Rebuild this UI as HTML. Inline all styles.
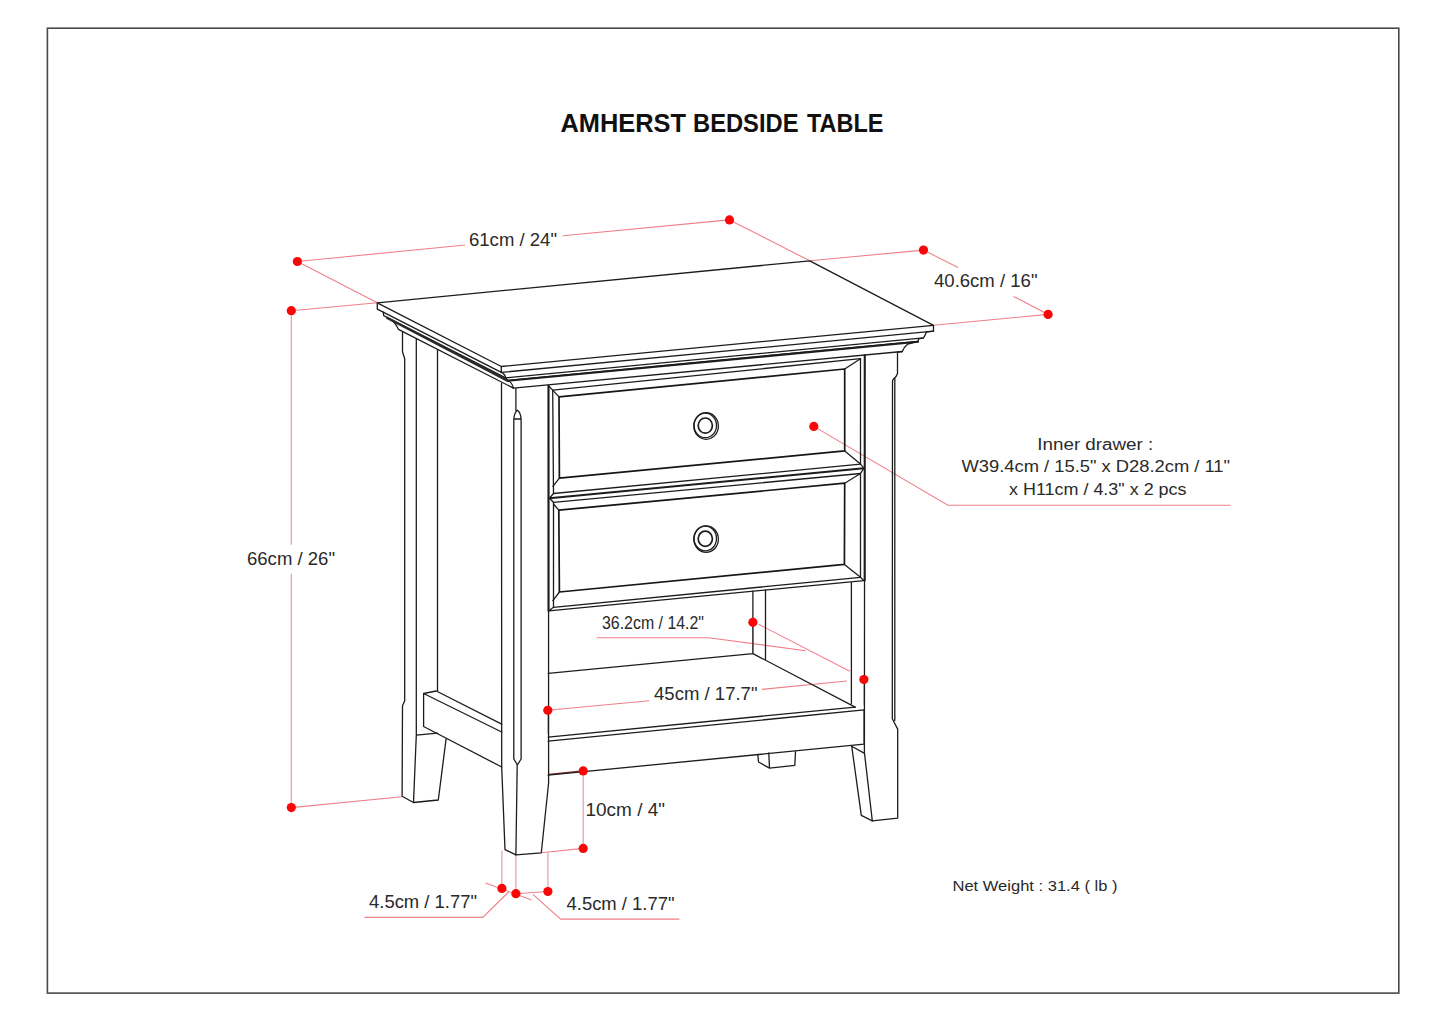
<!DOCTYPE html>
<html><head><meta charset="utf-8">
<style>
html,body{margin:0;padding:0;background:#fff;width:1445px;height:1021px;overflow:hidden}
svg{display:block}
text{font-family:"Liberation Sans",sans-serif;fill:#2a2a2a}
.k{fill:none;stroke:#1c1c1c;stroke-width:1.3;stroke-linejoin:round;stroke-linecap:round}
.kt{fill:none;stroke:#1c1c1c;stroke-width:2;stroke-linecap:round}
.r{fill:none;stroke:#ef8088;stroke-width:1.1}
.rv{fill:none;stroke:#d9a3ad;stroke-width:1.2}
.pn{fill:none;stroke:#161616;stroke-width:1.7;stroke-linejoin:round}
.rd{fill:#fa0606}
</style></head>
<body>
<svg width="1445" height="1021" viewBox="0 0 1445 1021">
<rect x="47.4" y="28.2" width="1351.4" height="964.9" fill="none" stroke="#4a4a4a" stroke-width="1.6"/>
<g font-size="26" font-weight="bold" style="fill:#111">
<text x="560.5" y="132" textLength="125.5" lengthAdjust="spacingAndGlyphs" style="fill:#111">AMHERST</text>
<text x="693" y="132" textLength="105.5" lengthAdjust="spacingAndGlyphs" style="fill:#111">BEDSIDE</text>
<text x="807" y="132" textLength="76.5" lengthAdjust="spacingAndGlyphs" style="fill:#111">TABLE</text>
</g>

<!-- RED ANNOTATION LINES -->
<g class="r">
<path d="M297.4,261.5 L465.2,245 M562.7,235.7 L729.5,219.9 M297.4,261.5 L377.3,302.8 M729.5,219.9 L809.8,260.8"/>
<path d="M291.3,310.7 L377.3,302.8 M291.3,807.6 L401.8,796.8"/>
<path class="rv" d="M291.3,310.7 L291.3,544.8 M291.3,573.8 L291.3,807.6 M752.9,622.3 L752.9,653.7 M863.9,679.5 L863.9,705 M547.8,710.3 L547.8,734 M583.2,770.9 L583.2,848.4 M501.9,850.8 L501.9,888.4 M515.9,854.9 L515.9,893.7 M547.9,852.8 L547.9,891.5"/>
<path d="M809.8,260.8 L923.5,250.1 L958.1,267.6 M1013.5,296.4 L1048.1,314.4 L933.5,325.3"/>
<path d="M813.8,426.4 L947.8,505.2 L1230.6,505.2"/>
<path d="M596.6,637.7 L708.7,637.7 L805.7,650.8 M758.7,624.3 L849.8,671.3"/>
<path d="M547.8,710.3 L649.2,700.8 M761.6,689.4 L846.8,681"/>
<path d="M541.3,852.8 L583.2,848.4"/>
<path d="M548.6,774.5 L583.2,770.9" style="stroke:#8a2a2a;stroke-width:1.3"/>
<path d="M485.6,883 L531.6,900 M515.9,893.7 L547.9,891.5 M508.6,892 L482.7,917.4 L364.5,917.4 M532.9,894.4 L560.7,919.1 L679.4,919.1"/>
</g>

<!-- TABLE DRAWING -->
<g class="k">
<!-- top -->
<path d="M377.3,302.8 L809.8,260.8 L933.5,325.3 L501.3,366.5 Z"/>
<path d="M377.3,302.8 L377.3,309.1 L501.3,372.4 L501.3,366.5 M501.3,372.4 L933.5,331.2 L933.5,325.3"/>
<!-- molding left -->
<path d="M383.2,312.1 L383.7,315.6 L505.7,377.9 M387.1,317.6 Q395,321 398.4,329.3 L513.4,388.1"/>
<path d="M501.3,372.4 Q505,374 505.7,377.9 L507.5,380.4 Q512,382 513.4,388.1"/>
<path d="M505.7,377.9 L923.5,337.8 M507.5,380.4 L918,341.3 M513.4,388.1 L902.3,351.5"/>
<path d="M933.5,331.2 L926.3,332 Q925,336 923.5,337.8 L918.7,338.9 L918,341.3 L907.8,344 Q904,347 902.3,351.5 L897.5,352.2"/>
<!-- back-left leg -->
<path d="M402.5,331.8 L402.5,351.7 L404.7,358.8 L404.7,700.8 L402.5,705.7 L402.1,796.3 L413.5,802.5 L438.3,800 L446.1,738.8"/>
<path d="M416.3,338.8 L416.3,735.1 L413.5,802.5 M437.5,349.7 L437.5,691 M416.3,735.1 L437.6,733.2"/>
<!-- stretcher -->
<path d="M423.6,693.5 L436.3,691 L501.7,724.1 M423.6,693.5 L501.7,732 M423.6,693.5 L423.6,726.5 L501.7,767"/>
<!-- front-left leg -->
<path d="M501.5,383.5 L501.7,767 L505,849.6 L515.9,854.9 L541.3,852.8 L548.6,783 L548.5,385.7"/>
<path d="M515.9,388.5 L515.9,410.5 M513.8,419 L521.1,419 M513.8,759 L513.8,419 Q514.5,412 517.4,410.2 Q520.5,412 521.1,419 L521.1,759 L517.4,765 Z M517.2,765 L515.9,854.9"/>
<!-- drawers -->
<path d="M552.7,390.1 L860.5,358.7 L860.5,464.1 L553.5,493.5 Z"/>
<path class="pn" d="M559,396.9 L844.7,369 L844.7,450.9 L559.4,478.2 Z"/>
<path d="M552.7,390.1 L559,396.9 M860.5,358.7 L844.7,369 M860.5,464.1 L844.7,450.9 M552.9,486.4 L559.4,478.2 M548.5,385.7 L552.7,390.1"/>
<path d="M553.5,493.5 L549.4,498.2 L553.5,502.3 M860.5,464.1 L863.8,468.2 L860.5,473.5"/>
<path d="M553.5,502.3 L860.5,473.5 L860.5,577.3 L553.5,607.3 Z"/>
<path class="pn" d="M558.8,510.2 L844.7,483.2 L844.4,564.4 L559.4,592 Z"/>
<path d="M553.5,504 L558.8,510.2 M860.5,473.5 L844.7,483.2 M860.5,577.3 L844.4,564.4 M552.9,600.6 L559.4,592"/>
<path d="M548.8,610.8 L863.8,580.6 M553.5,607.3 L548.8,610.8 M860.5,577.3 L863.8,580.6"/>
<!-- right front leg -->
<path d="M897.5,352.2 L897.5,373.5 Q896.5,377 893.5,379 Q892.5,380 892.5,382 L892.3,718.7 L897.7,729.1 L897.7,818.2 L872.3,820.9 L864.4,752.4 L864.7,355.3"/>
<path d="M894.8,378.5 L894.8,720.5"/>
<path d="M851.7,746.2 L861.3,815.4 L872.3,820.9 M851.7,746.2 L864.1,753.1"/>
<!-- shelf -->
<path d="M548.2,673.3 L752.9,653.7 M752.9,591.2 L752.9,653.7 M765.5,590 L765.5,659.8 M752.9,653.6 L855.2,707.1 M851.4,582.6 L851.4,703.6"/>
<path d="M548.2,737.1 L855.2,707.1 M548.2,741.2 L864.1,709.9 M864.1,709.9 L864.1,744.2 M548.2,775.1 L864.1,744.2"/>
<path d="M757.8,754.4 L758.5,762 L769.5,768.1 L794.8,765.4 L795.5,751.7 M768.8,753 L769.5,768.1"/>
<!-- knobs -->
<ellipse cx="706.1" cy="426" rx="12.3" ry="13.3"/>
<ellipse cx="705.3" cy="425.4" rx="11.2" ry="12.3"/>
<ellipse cx="705.3" cy="425.6" rx="7.1" ry="7.6" style="stroke-width:1.7"/>
<ellipse cx="706.1" cy="539.1" rx="12.3" ry="13.3"/>
<ellipse cx="705.3" cy="538.5" rx="11.2" ry="12.3"/>
<ellipse cx="705.3" cy="538.7" rx="7.1" ry="7.6" style="stroke-width:1.7"/>
</g>
<g class="kt">
<path d="M548.5,385.7 L548.5,610.8 M864.7,355.3 L864.7,580.6 M549.4,498.2 L863.8,468.2 M507.5,380.8 L918,341.8"/>
<path d="M387.3,318 L507.5,380.6" style="stroke:#2a2a2a;stroke-width:2.5"/>
</g>

<!-- RED DOTS -->
<g class="rd">
<circle cx="297.4" cy="261.5" r="4.6"/>
<circle cx="729.5" cy="219.9" r="4.6"/>
<circle cx="923.5" cy="250.1" r="4.6"/>
<circle cx="1048.1" cy="314.4" r="4.6"/>
<circle cx="291.3" cy="310.7" r="4.6"/>
<circle cx="291.3" cy="807.6" r="4.6"/>
<circle cx="813.8" cy="426.4" r="4.6"/>
<circle cx="752.9" cy="622.3" r="4.6"/>
<circle cx="863.9" cy="679.5" r="4.6"/>
<circle cx="547.8" cy="710.3" r="4.6"/>
<circle cx="583.2" cy="770.9" r="4.6"/>
<circle cx="583.2" cy="848.4" r="4.6"/>
<circle cx="501.9" cy="888.4" r="4.6"/>
<circle cx="515.9" cy="893.7" r="4.6"/>
<circle cx="547.9" cy="891.5" r="4.6"/>
</g>

<!-- LABELS -->
<g font-size="17.5">
<text x="469" y="245.7" textLength="88" lengthAdjust="spacingAndGlyphs">61cm / 24"</text>
<text x="934" y="287" textLength="103.5" lengthAdjust="spacingAndGlyphs">40.6cm / 16"</text>
<text x="247" y="564.6" textLength="88" lengthAdjust="spacingAndGlyphs">66cm / 26"</text>
<text x="602" y="628.7" textLength="102" lengthAdjust="spacingAndGlyphs">36.2cm / 14.2"</text>
<text x="654" y="700" textLength="103.5" lengthAdjust="spacingAndGlyphs">45cm / 17.7"</text>
<text x="585.5" y="816.2" textLength="79.5" lengthAdjust="spacingAndGlyphs">10cm / 4"</text>
<text x="369" y="908.2" textLength="108" lengthAdjust="spacingAndGlyphs">4.5cm / 1.77"</text>
<text x="566.5" y="909.7" textLength="108" lengthAdjust="spacingAndGlyphs">4.5cm / 1.77"</text>
</g>
<g font-size="16">
<text x="1037.3" y="449.9" textLength="116" lengthAdjust="spacingAndGlyphs">Inner drawer :</text>
<text x="961.5" y="472.3" textLength="268.5" lengthAdjust="spacingAndGlyphs">W39.4cm / 15.5" x D28.2cm / 11"</text>
<text x="1009" y="494.5" textLength="177.5" lengthAdjust="spacingAndGlyphs">x H11cm / 4.3" x 2 pcs</text>
</g>
<text x="952.5" y="891.3" font-size="14.5" textLength="165" lengthAdjust="spacingAndGlyphs">Net Weight : 31.4 ( lb )</text>
</svg>
</body></html>
